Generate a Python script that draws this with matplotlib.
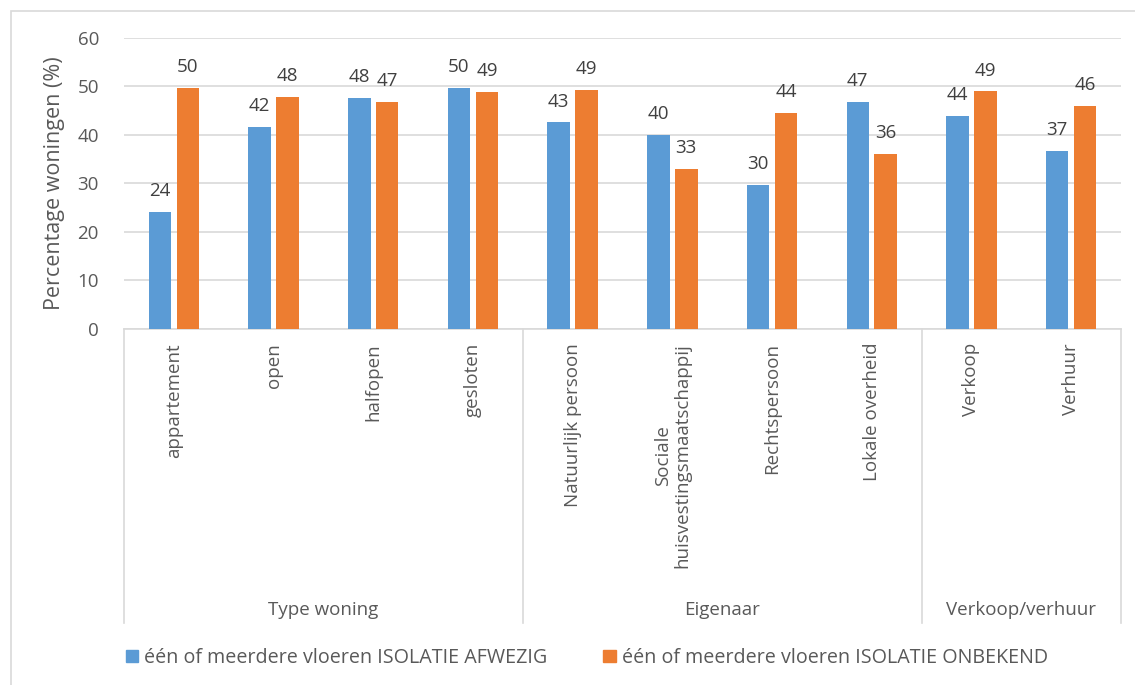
import matplotlib.pyplot as plt
import numpy as np
from matplotlib.patches import Rectangle

# data
categories = ['appartement', 'open', 'halfopen', 'gesloten',
              'Natuurlijk persoon', 'Sociale\nhuisvestingsmaatschappij',
              'Rechtspersoon', 'Lokale overheid', 'Verkoop', 'Verhuur']
groups = ['Type woning', 'Eigenaar', 'Verkoop/verhuur']
group_sizes = [4, 4, 2]
afwezig = [24.1, 41.6, 47.6, 49.7, 42.6, 40.0, 29.7, 46.8, 43.9, 36.7]
onbekend = [49.7, 47.8, 46.8, 48.9, 49.3, 33.0, 44.5, 36.1, 49.0, 46.0]
series_names = ['één of meerdere vloeren ISOLATIE AFWEZIG',
                'één of meerdere vloeren ISOLATIE ONBEKEND']

BLUE = '#5B9BD5'
ORANGE = '#ED7D31'
TXT = '#595959'
GRID = '#D9D9D9'
FS = 13.5

plt.rcParams['font.family'] = ['Open Sans', 'DejaVu Sans']

fig = plt.figure(figsize=(11.35, 6.85), dpi=100)
ax = fig.add_axes([124 / 1135, 1 - 329 / 685, (1121 - 124) / 1135, (329 - 38) / 685])

x = np.arange(len(categories))
w = 0.225
off = 0.14
ax.bar(x - off, afwezig, w, color=BLUE, zorder=3)
ax.bar(x + off, onbekend, w, color=ORANGE, zorder=3)

for xi, v in zip(x - off, afwezig):
    ax.annotate(f'{v:.0f}', (xi, v), xytext=(0, 8.5), textcoords='offset points',
                ha='center', va='bottom', fontsize=FS, color='#404040')
for xi, v in zip(x + off, onbekend):
    ax.annotate(f'{v:.0f}', (xi, v), xytext=(0, 8.5), textcoords='offset points',
                ha='center', va='bottom', fontsize=FS, color='#404040')

ax.set_xlim(-0.5, len(categories) - 0.5)
ax.set_ylim(0, 60)
ax.set_yticks(range(0, 61, 10))
ax.tick_params(axis='y', length=0, labelsize=FS, labelcolor=TXT, pad=18)
ax.set_xticks([])
ax.grid(axis='y', color=GRID, linewidth=1.2, zorder=0)
for s in ['top', 'right', 'left']:
    ax.spines[s].set_visible(False)
ax.spines['bottom'].set_color(GRID)
ax.spines['bottom'].set_linewidth(1.2)
ax.set_ylabel('Percentage woningen (%)', fontsize=15.5, color=TXT, labelpad=9)

# multi-level category axis
tr = ax.get_xaxis_transform()
bottom = -(623 - 329) / 291
for i, c in enumerate(categories):
    ax.text(i, -(343 - 329) / 291, c, rotation=90, ha='center', va='top', multialignment='center',
            fontsize=FS, color=TXT, transform=tr, linespacing=1.1)

edges = np.concatenate([[0], np.cumsum(group_sizes)]) - 0.5
for e in edges:
    ax.plot([e, e], [0, bottom], transform=tr, color=GRID, lw=1.2, clip_on=False)
for g, a, b in zip(groups, edges[:-1], edges[1:]):
    ax.text((a + b) / 2, -(610 - 329) / 291, g, ha='center', va='center',
            fontsize=FS, color=TXT, transform=tr)

# legend
ax.legend(handles=[Rectangle((0, 0), 1, 1, color=BLUE), Rectangle((0, 0), 1, 1, color=ORANGE)],
          labels=series_names, loc='center left', bbox_to_anchor=(-0.016, -(658 - 329) / 291),
          ncol=2, frameon=False, fontsize=14.2, labelcolor=TXT, handlelength=0.62,
          handleheight=0.62, handletextpad=0.3, columnspacing=2.85)

# outer frame (only top and left edges fall inside the image)
fig.patches.append(Rectangle((11 / 1135, -0.05), 1.2, 1 - 11 / 685 + 0.05, transform=fig.transFigure,
                             fill=False, edgecolor=GRID, lw=1.2))

fig.savefig('out.png', dpi=100, facecolor='white')
